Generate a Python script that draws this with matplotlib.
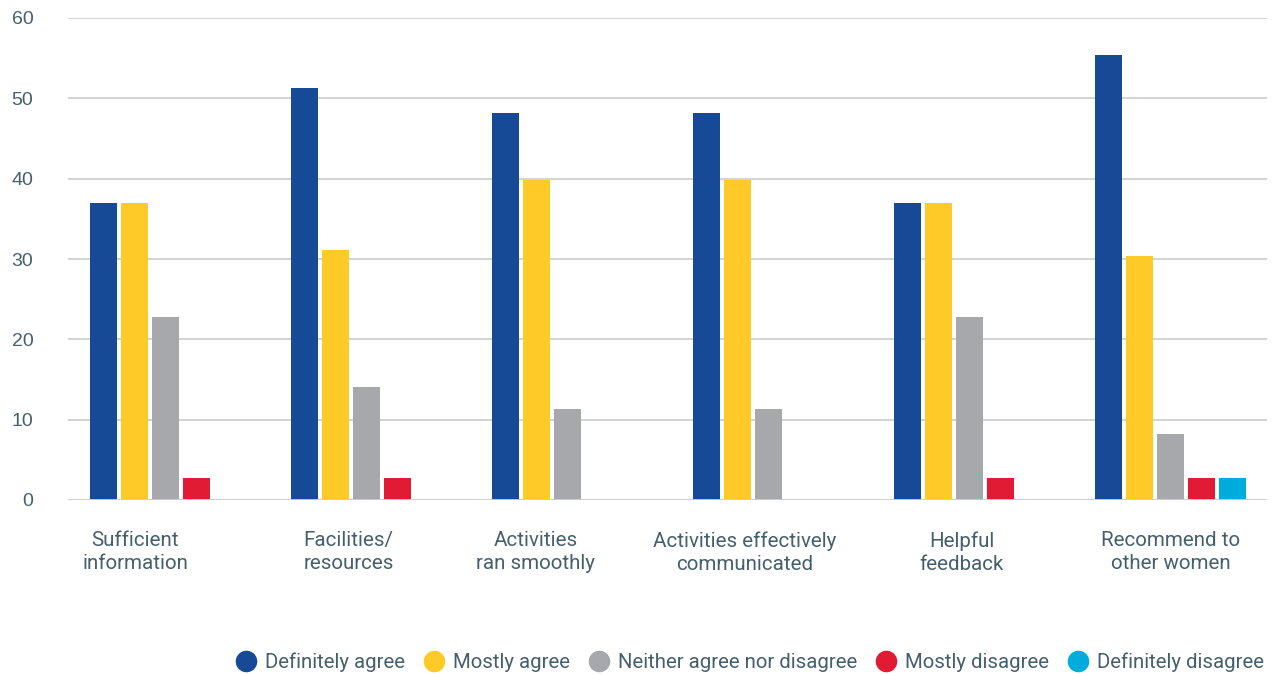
import numpy as np
import matplotlib.pyplot as plt
from matplotlib.lines import Line2D

categories = ["Sufficient\ninformation", "Facilities/\nresources", "Activities\nran smoothly",
              "Activities effectively\ncommunicated", "Helpful\nfeedback", "Recommend to\nother women"]
series = ["Definitely agree", "Mostly agree", "Neither agree nor disagree",
          "Mostly disagree", "Definitely disagree"]
definitely_agree = [37.0, 51.3, 48.2, 48.2, 37.0, 55.4]
mostly_agree = [37.0, 31.1, 39.8, 39.8, 37.0, 30.4]
neither = [22.8, 14.1, 11.3, 11.3, 22.8, 8.2]
mostly_disagree = [2.7, 2.7, 0, 0, 2.7, 2.7]
definitely_disagree = [0, 0, 0, 0, 0, 2.7]
values = [definitely_agree, mostly_agree, neither, mostly_disagree, definitely_disagree]

colors = ["#174a96", "#fdca27", "#a7a8ab", "#e11b34", "#00acdc"]
label_shift = [-0.15, -0.09, -0.16, -0.12, -0.04, 0.0]  # label offsets from group centre
txt = "#44606c"

fig = plt.figure(figsize=(12.77, 6.75), dpi=100)
ax = fig.add_axes([68/1277, 175/675, 1199/1277, 482/675])

x = np.arange(len(categories))
slot = 0.154
for j, (name, vals) in enumerate(zip(series, values)):
    ax.bar(x + (j - 2) * slot, vals, width=0.134, color=colors[j], zorder=3)

ax.set_ylim(0, 60)
ax.set_xlim(-0.485, 5.48)
ax.set_yticks(range(0, 61, 10))
ax.yaxis.grid(True, color="#d0d0d0", linewidth=1.3, zorder=0)
ax.axhline(0, color="#d0d0d0", linewidth=2, zorder=4)
for s in ax.spines.values():
    s.set_visible(False)
ax.tick_params(axis="y", length=0, pad=25, labelsize=14, labelcolor=txt)
for lab in ax.get_yticklabels():
    lab.set_family("Liberation Sans")
ax.set_xticks([])

for i, c in enumerate(categories):
    ax.text(i + label_shift[i], -3.9, c, ha="center", va="top", fontsize=14.8,
            family="Roboto", color=txt, linespacing=1.25)

handles = [Line2D([], [], marker="o", linestyle="", markersize=14.5,
                  markerfacecolor=c, markeredgecolor=c) for c in colors]
fig.legend(handles, series, loc="center right", bbox_to_anchor=(1272/1277, 1 - 662/675),
           ncol=5, frameon=False, handletextpad=0.4, columnspacing=0.95, handlelength=1.0,
           prop={"family": "Roboto", "size": 14.7}, labelcolor=txt, borderaxespad=0)

fig.savefig("out.png", dpi=100)
